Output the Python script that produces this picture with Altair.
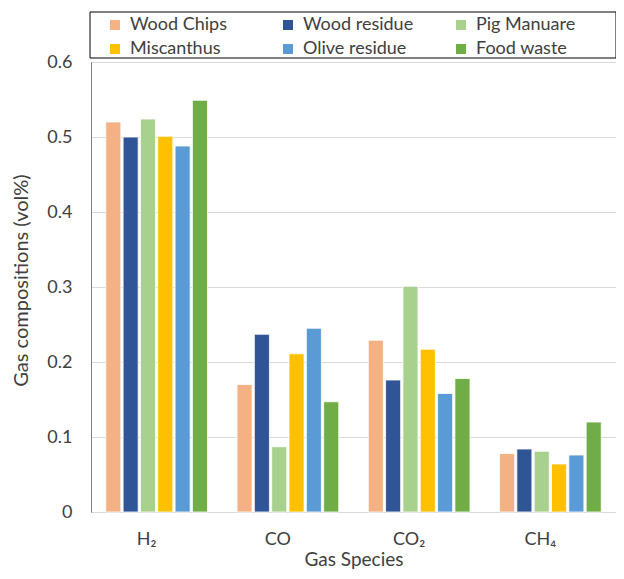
import altair as alt
import pandas as pd

species = ["H₂", "CO", "CO₂", "CH₄"]
feedstocks = ["Wood Chips", "Wood residue", "Pig Manuare", "Miscanthus", "Olive residue", "Food waste"]
wood_chips = [0.520, 0.170, 0.229, 0.078]
wood_residue = [0.500, 0.237, 0.176, 0.084]
pig_manuare = [0.524, 0.087, 0.301, 0.081]
miscanthus = [0.501, 0.211, 0.217, 0.064]
olive_residue = [0.488, 0.245, 0.158, 0.076]
food_waste = [0.549, 0.147, 0.178, 0.120]
colors = ["#F4B183", "#2F5597", "#A9D18E", "#FFC000", "#5B9BD5", "#70AD47"]

series = [wood_chips, wood_residue, pig_manuare, miscanthus, olive_residue, food_waste]
rows = []
for f, vals in zip(feedstocks, series):
    for s, v in zip(species, vals):
        rows.append({"Species": s, "Feedstock": f, "Value": v})
df = pd.DataFrame(rows)

W, H = 525, 450
FONT = "Lato"
TXT = "#404040"

bars = alt.Chart(df).mark_bar(stroke="white", strokeWidth=0.8).encode(
    x=alt.X("Species:N", sort=species,
            scale=alt.Scale(paddingInner=0.225, paddingOuter=0.1125),
            axis=alt.Axis(title="Gas Species", labelAngle=0, ticks=False,
                          domainColor="#D9D9D9", labelPadding=18, titlePadding=2,
                          labelOffset=-10)),
    xOffset=alt.XOffset("Feedstock:N", sort=feedstocks,
                        scale=alt.Scale(paddingInner=0.13, paddingOuter=0)),
    y=alt.Y("Value:Q", scale=alt.Scale(domain=[0, 0.6]),
            axis=alt.Axis(title="Gas compositions (vol%)",
                          values=[0, 0.1, 0.2, 0.3, 0.4, 0.5, 0.6], format="~g",
                          ticks=False, gridColor="#D9D9D9", domainColor="#808080",
                          labelPadding=19, titlePadding=15, titleFontSize=20,
                          titleY=218)),
    color=alt.Color("Feedstock:N", sort=feedstocks,
                    scale=alt.Scale(domain=feedstocks, range=colors),
                    legend=alt.Legend(title=None, orient="none", direction="horizontal",
                                      legendX=15, legendY=-46,
                                      columns=3, columnPadding=38, rowPadding=6,
                                      symbolType="square", symbolSize=100,
                                      symbolStrokeWidth=0, labelFontSize=18,
                                      labelOffset=6, gridAlign="all")),
)

frame = alt.Chart(pd.DataFrame({"k": [0]})).mark_rect(
    fillOpacity=0, stroke="black", strokeWidth=1
).encode(
    x=alt.value(-1), x2=alt.value(W), y=alt.value(-50), y2=alt.value(-4)
)

chart = alt.layer(bars, frame).properties(
    width=W, height=H,
    autosize=alt.AutoSizeParams(type="none"),
    padding={"left": 83, "top": 54, "right": 0, "bottom": 58},
).configure_view(stroke="#808080").configure_axis(
    labelFont=FONT, titleFont=FONT, labelFontSize=18, titleFontSize=19,
    labelColor=TXT, titleColor=TXT, titleFontWeight="normal"
).configure_legend(labelFont=FONT, labelColor=TXT)

chart.save("out.html", embed_options={"renderer": "svg", "actions": False})
